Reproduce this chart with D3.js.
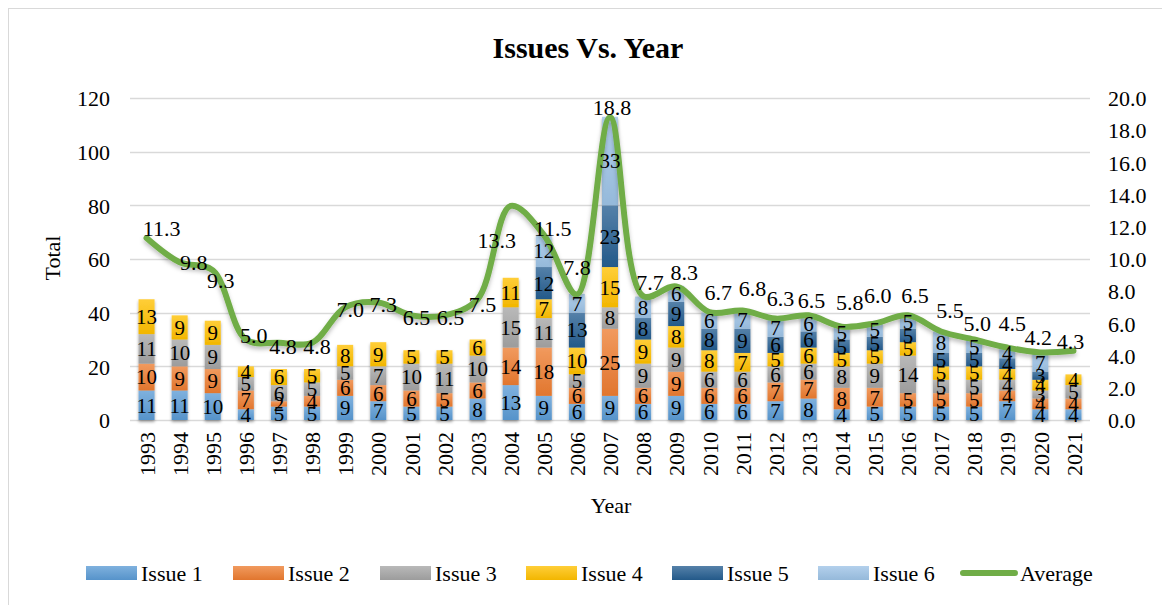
<!DOCTYPE html>
<html>
<head>
<meta charset="utf-8">
<script src="https://cdn.jsdelivr.net/npm/d3@7"></script>
<style>
  html, body { margin: 0; padding: 0; background: #fff; }
  svg { display: block; font-family: "Liberation Serif", "Times New Roman", serif; }
  svg text { font-family: "Liberation Serif", "Times New Roman", serif; }
</style>
</head>
<body>
<div id="chart"></div>
<script>
/* ============================================================
   Issues Vs. Year - stacked columns + average line (D3 v7)
   ============================================================ */

// -- Data ------------------------------------------------------
const years = ["1993", "1994", "1995", "1996", "1997", "1998", "1999", "2000",
  "2001", "2002", "2003", "2004", "2005", "2006", "2007", "2008", "2009",
  "2010", "2011", "2012", "2013", "2014", "2015", "2016", "2017", "2018",
  "2019", "2020", "2021"];

const issue1 = [11, 11, 10, 4, 5, 5, 9, 7, 5, 5, 8, 13, 9, 6, 9, 6, 9, 6, 6, 7, 8, 4, 5, 5, 5, 5, 7, 4, 4];
const issue2 = [10, 9, 9, 7, 2, 4, 6, 6, 6, 5, 6, 14, 18, 6, 25, 6, 9, 6, 6, 7, 7, 8, 7, 5, 5, 5, 4, 4, 4];
const issue3 = [11, 10, 9, 5, 6, 5, 5, 7, 10, 11, 10, 15, 11, 5, 8, 9, 9, 6, 6, 6, 6, 8, 9, 14, 5, 5, 4, 3, 5];
const issue4 = [13, 9, 9, 4, 6, 5, 8, 9, 5, 5, 6, 11, 7, 10, 15, 9, 8, 8, 7, 5, 6, 5, 5, 5, 5, 5, 4, 4, 4];
const issue5 = [0, 0, 0, 0, 0, 0, 0, 0, 0, 0, 0, 0, 12, 13, 23, 8, 9, 8, 9, 6, 6, 5, 5, 5, 5, 5, 4, 3, 0];
const issue6 = [0, 0, 0, 0, 0, 0, 0, 0, 0, 0, 0, 0, 12, 7, 33, 8, 6, 6, 7, 7, 6, 5, 5, 5, 8, 5, 4, 7, 0];
const average = [11.3, 9.8, 9.3, 5.0, 4.8, 4.8, 7.0, 7.3, 6.5, 6.5, 7.5, 13.3, 11.5, 7.8, 18.8, 7.7,
  8.3, 6.7, 6.8, 6.3, 6.5, 5.8, 6.0, 6.5, 5.5, 5.0, 4.5, 4.2, 4.3];

const seriesNames = ["Issue 1", "Issue 2", "Issue 3", "Issue 4", "Issue 5", "Issue 6"];
const seriesValues = [issue1, issue2, issue3, issue4, issue5, issue6];

const leftTicks = [0, 20, 40, 60, 80, 100, 120];
const rightTicks = [0, 2, 4, 6, 8, 10, 12, 14, 16, 18, 20];

// -- Look ------------------------------------------------------
const COLORS = ["#5B9BD5", "#ED7D31", "#A5A5A5", "#FFC000", "#255E91", "#9DC3E6"];
const LINE_COLOR = "#70AD47";
const FONT = '"Liberation Serif", "Times New Roman", serif';

const W = 1162, H = 605;
const plot = { left: 130, right: 1090, top: 98, bottom: 420 };
const BAR_W = 16;

// nudges for average labels (Excel placed them by hand / auto)
const labelNudge = {
  1993: [15, -10], 1994: [14, 0], 1995: [8, 10], 1996: [8, -4], 1997: [4, 4], 1998: [5, 4],
  1999: [5, 2], 2000: [5, 2], 2001: [5, 2], 2002: [6, 2], 2003: [5, 5], 2004: [-14, 34],
  2005: [9, -7], 2006: [0, -27], 2007: [2, -10], 2008: [7, -14], 2009: [8, -14], 2010: [9, -20],
  2011: [10, -22], 2012: [5, -20], 2013: [3, -15], 2014: [8, -24], 2015: [3, -28], 2016: [7, -20],
  2017: [9, -21], 2018: [3, -16], 2019: [5, -24], 2020: [-2, -15], 2021: [-3, -9]
};

// -- Build stacks ----------------------------------------------
const rows = years.map((y, i) => {
  const r = { year: y };
  seriesNames.forEach((s, k) => (r[s] = seriesValues[k][i]));
  return r;
});
const stacked = d3.stack().keys(seriesNames)(rows);

// -- Scales ----------------------------------------------------
const x = d3.scalePoint().domain(years).range([plot.left, plot.right]).padding(0.5);
const yL = d3.scaleLinear().domain([0, 120]).range([plot.bottom, plot.top]);
const yR = d3.scaleLinear().domain([0, 20]).range([plot.bottom, plot.top]);

const svg = d3.select("#chart").append("svg").attr("width", W).attr("height", H)
  .attr("font-family", FONT);

// Gradients + shadows
const defs = svg.append("defs");
COLORS.forEach((c, i) => {
  const g = defs.append("linearGradient").attr("id", "grad" + i)
    .attr("x1", 0).attr("y1", 0).attr("x2", 0).attr("y2", 1);
  g.append("stop").attr("offset", "0%").attr("stop-color", d3.interpolateRgb(c, "#fff")(0.22));
  g.append("stop").attr("offset", "100%").attr("stop-color", d3.color(c).darker(0.15));
});
defs.append("filter").attr("id", "shadow").attr("x", "-30%").attr("y", "-10%").attr("width", "160%").attr("height", "130%")
  .append("feDropShadow").attr("dx", 0).attr("dy", 2).attr("stdDeviation", 1.6)
  .attr("flood-color", "#000").attr("flood-opacity", 0.35);
defs.append("filter").attr("id", "lineShadow").attr("x", "-5%").attr("y", "-20%").attr("width", "110%").attr("height", "140%")
  .append("feDropShadow").attr("dx", 0).attr("dy", 3).attr("stdDeviation", 2)
  .attr("flood-color", "#000").attr("flood-opacity", 0.25);

// Frame
svg.append("rect").attr("x", 8.5).attr("y", 8.5).attr("width", W).attr("height", H)
  .attr("fill", "none").attr("stroke", "#d9d9d9");

// Title
svg.append("text").attr("x", 588).attr("y", 58).attr("text-anchor", "middle")
  .style("font-size", "30px").style("font-weight", "bold").text("Issues Vs. Year");

// Gridlines
svg.append("g").selectAll("line").data(leftTicks).join("line")
  .attr("x1", plot.left).attr("x2", plot.right)
  .attr("y1", (d) => Math.round(yL(d)) + 0.5).attr("y2", (d) => Math.round(yL(d)) + 0.5)
  .attr("stroke", "#d9d9d9").attr("stroke-width", 1.5);

// Axes (text only, Excel style)
function styleAxis(g) {
  g.attr("font-family", FONT).attr("font-size", 22);
  g.select(".domain").remove();
  g.selectAll("text").attr("fill", "#000").attr("dy", "0.35em");
}

svg.append("g").attr("transform", `translate(${plot.left - 20},0)`)
  .call(d3.axisLeft(yL).tickValues(leftTicks).tickSize(0).tickPadding(0))
  .call(styleAxis);

svg.append("g").attr("transform", `translate(${plot.right + 18},0)`)
  .call(d3.axisRight(yR).tickValues(rightTicks).tickSize(0).tickPadding(0).tickFormat(d3.format(".1f")))
  .call(styleAxis);

svg.append("g").attr("transform", `translate(0,${plot.bottom + 12})`)
  .call(d3.axisBottom(x).tickSize(0).tickPadding(0))
  .call(styleAxis)
  .selectAll("text")
  .attr("transform", "rotate(-90)").attr("text-anchor", "end")
  .attr("x", 0).attr("y", 0);

// Axis titles
svg.append("text").attr("transform", "translate(60,258) rotate(-90)")
  .attr("text-anchor", "middle").style("font-size", "22px").text("Total");
svg.append("text").attr("x", 611).attr("y", 513).attr("text-anchor", "middle")
  .style("font-size", "22px").text("Year");

// -- Bars ------------------------------------------------------
const barG = svg.append("g").attr("filter", "url(#shadow)");
stacked.forEach((layer, i) => {
  barG.append("g").selectAll("rect").data(layer.filter((d) => d[1] > d[0])).join("rect")
    .attr("x", (d) => x(d.data.year) - BAR_W / 2)
    .attr("width", BAR_W)
    .attr("y", (d) => yL(d[1]))
    .attr("height", (d) => yL(d[0]) - yL(d[1]))
    .attr("fill", `url(#grad${i})`);
});

// -- Average line ----------------------------------------------
const line = d3.line()
  .x((d, i) => x(years[i]))
  .y((d) => yR(d))
  .curve(d3.curveCatmullRom.alpha(0.5));

svg.append("path").datum(average)
  .attr("d", line)
  .attr("fill", "none")
  .attr("stroke", LINE_COLOR)
  .attr("stroke-width", 6)
  .attr("stroke-linecap", "round")
  .attr("stroke-linejoin", "round")
  .attr("filter", "url(#lineShadow)");

// -- Labels ----------------------------------------------------
const barLabels = svg.append("g").style("font-size", "21px").attr("text-anchor", "middle");
stacked.forEach((layer) => {
  barLabels.append("g").selectAll("text").data(layer.filter((d) => d[1] > d[0])).join("text")
    .attr("x", (d) => x(d.data.year))
    .attr("y", (d) => (yL(d[0]) + yL(d[1])) / 2)
    .attr("dy", "0.35em")
    .text((d) => d[1] - d[0]);
});

svg.append("g").style("font-size", "22px").attr("text-anchor", "middle")
  .selectAll("text").data(average).join("text")
  .attr("x", (d, i) => x(years[i]) + (labelNudge[years[i]] || [8, -14])[0])
  .attr("y", (d, i) => yR(d) + (labelNudge[years[i]] || [8, -14])[1])
  .attr("dy", "0.35em")
  .text((d) => d.toFixed(1));

// -- Legend ----------------------------------------------------
const legendX = [86, 233, 380, 526, 672, 818];
const legend = svg.append("g").style("font-size", "22px");
seriesNames.forEach((name, i) => {
  legend.append("rect").attr("x", legendX[i]).attr("y", 566).attr("width", 51).attr("height", 14)
    .attr("fill", `url(#grad${i})`);
  legend.append("text").attr("x", legendX[i] + 55).attr("y", 573).attr("dy", "0.35em").text(name);
});
legend.append("line").attr("x1", 963).attr("x2", 1015).attr("y1", 573).attr("y2", 573)
  .attr("stroke", LINE_COLOR).attr("stroke-width", 6).attr("stroke-linecap", "round");
legend.append("text").attr("x", 1020).attr("y", 573).attr("dy", "0.35em").text("Average");
</script>
</body>
</html>
